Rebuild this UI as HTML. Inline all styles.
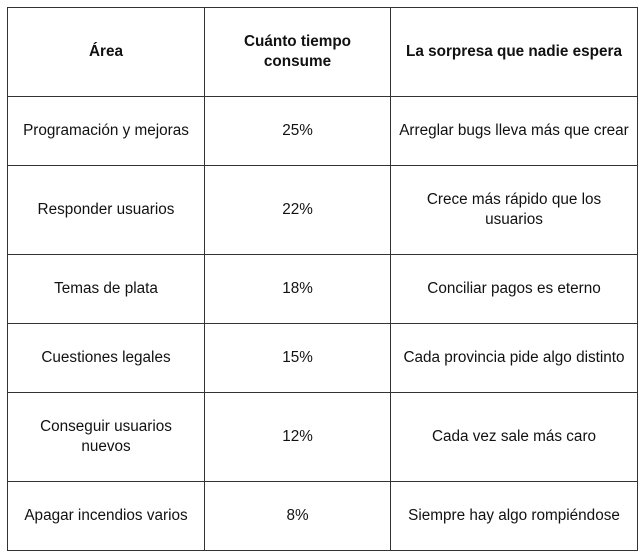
<!DOCTYPE html>
<html><head><meta charset="utf-8"><style>
html,body{margin:0;padding:0;background:#fff;width:642px;height:558px;overflow:hidden}
table{position:absolute;left:7px;top:7px;border-collapse:collapse;font-family:"Liberation Sans",Arial,sans-serif;font-size:15.3px;color:#111}
td,th{border:1px solid #333;text-align:center;vertical-align:middle;padding:0 4px;line-height:20px}
th{font-weight:bold}
</style></head><body>
<table>
<colgroup><col style="width:197px"><col style="width:186px"><col style="width:247px"></colgroup>
<tr style="height:89px"><th>Área</th><th>Cuánto tiempo<br>consume</th><th>La sorpresa que nadie espera</th></tr>
<tr style="height:69px"><td>Programación y mejoras</td><td>25%</td><td>Arreglar bugs lleva más que crear</td></tr>
<tr style="height:89px"><td>Responder usuarios</td><td>22%</td><td>Crece más rápido que los<br>usuarios</td></tr>
<tr style="height:69px"><td>Temas de plata</td><td>18%</td><td>Conciliar pagos es eterno</td></tr>
<tr style="height:69px"><td>Cuestiones legales</td><td>15%</td><td>Cada provincia pide algo distinto</td></tr>
<tr style="height:89px"><td>Conseguir usuarios<br>nuevos</td><td>12%</td><td>Cada vez sale más caro</td></tr>
<tr style="height:69px"><td>Apagar incendios varios</td><td>8%</td><td>Siempre hay algo rompiéndose</td></tr>
</table>
</body></html>
